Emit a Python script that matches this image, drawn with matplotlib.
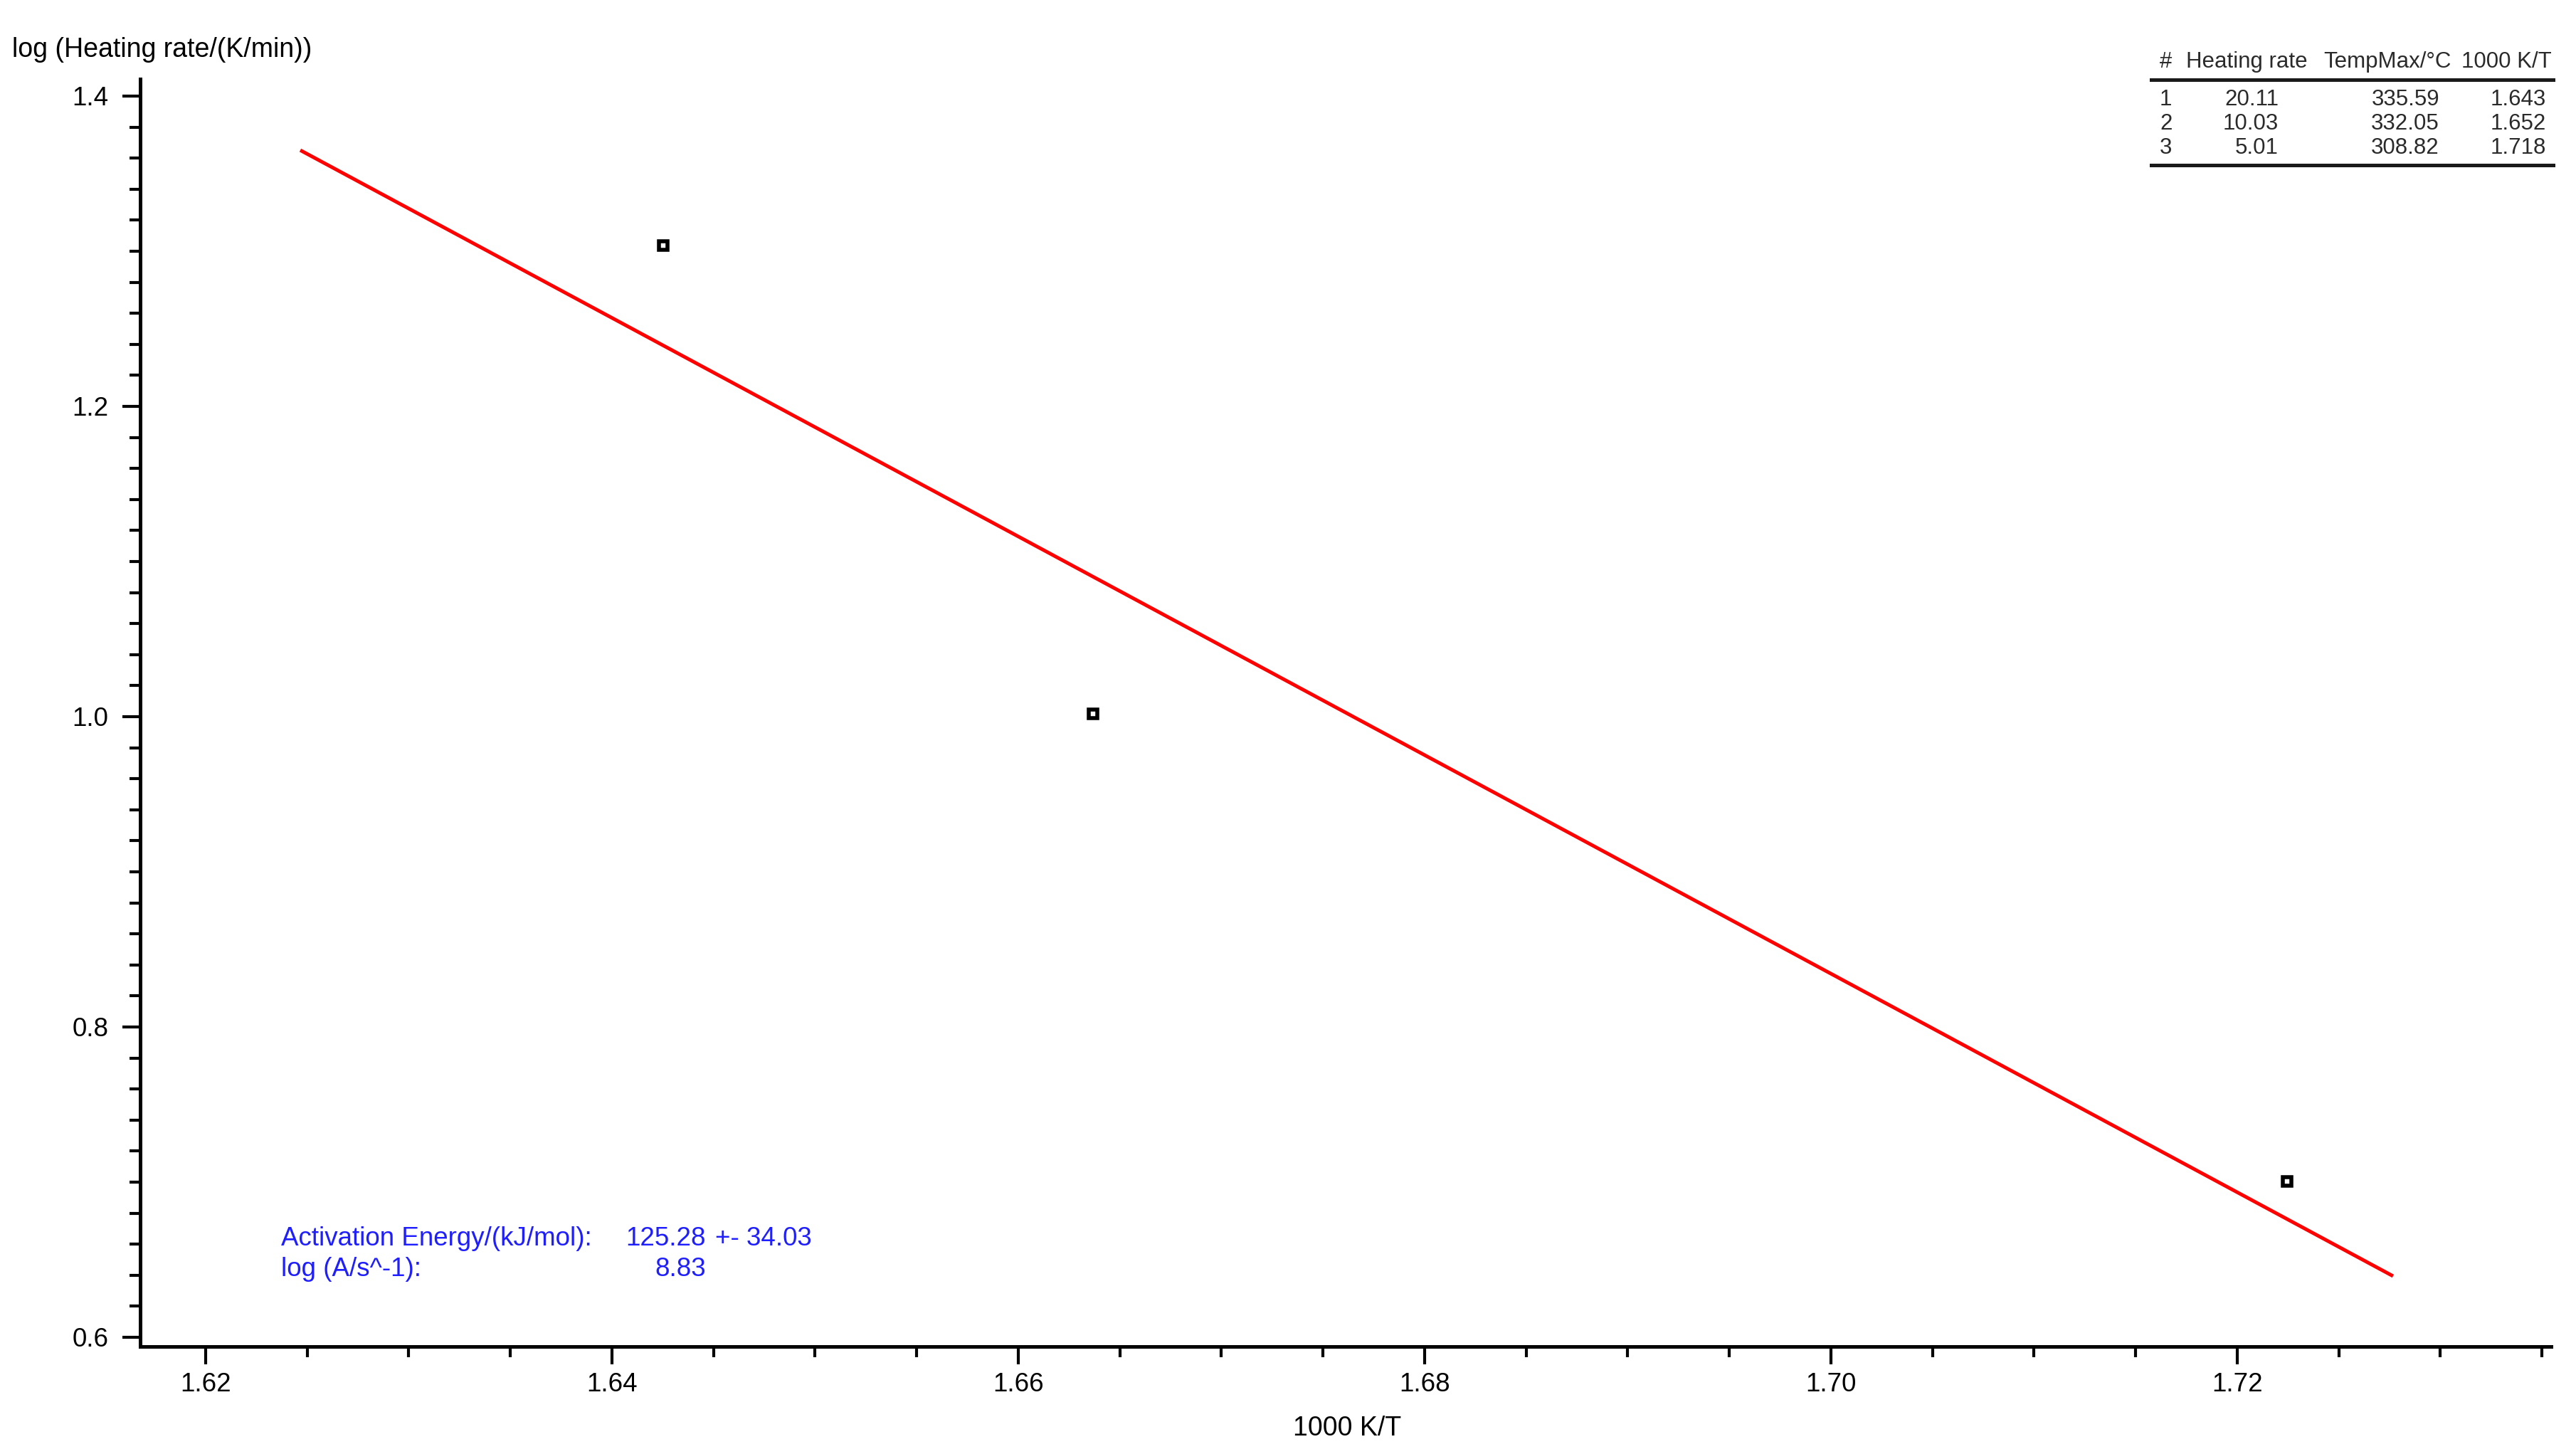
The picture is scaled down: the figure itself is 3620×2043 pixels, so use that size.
#!/usr/bin/env python3
# -*- coding: utf-8 -*-
"""
Kissinger / Ozawa style plot: log heating rate vs 1000 K/T
with fitted line, result text and a small table of peak temperatures.
"""

import matplotlib
matplotlib.use('Agg')
import matplotlib.pyplot as plt
from matplotlib.ticker import MultipleLocator, FormatStrFormatter
from matplotlib.lines import Line2D

plt.rcParams['font.family'] = ['Liberation Sans', 'DejaVu Sans']

W, H = 3620, 2043
DPI = 100

# measured points (as drawn)
inv_temp = [1.64251, 1.66367, 1.72245]
log_rate = [1.3037, 1.0017, 0.7005]

# fitted line end points
fit_x = [1.62466, 1.72767]
fit_y = [1.3651, 0.6394]

# table contents
row_ids = ['1', '2', '3']
heating_rates = ['20.11', '10.03', '5.01']
temp_max = ['335.59', '332.05', '308.82']
inv_temp_table = ['1.643', '1.652', '1.718']
table_headers = ['#', 'Heating rate', 'TempMax/\u00b0C', '1000 K/T']

act_energy = '125.28'
act_energy_err = '34.03'
log_a = '8.83'

BLUE = '#1e1eff'
TXT = '#2a2a2a'


def fx(px):
    return px / W


def fy(py):
    return 1 - py / H


fig = plt.figure(figsize=(W / DPI, H / DPI), dpi=DPI)
fig.patch.set_facecolor('white')

# axes box from pixel measurements
ax = fig.add_axes([fx(197), fy(1892), (3585 - 197) / W, (1892 - 111) / H])

ax.plot(fit_x, fit_y, color='#ff0000', linewidth=3.6, solid_capstyle='butt')
ax.plot(inv_temp, log_rate, linestyle='none', marker='s', markersize=8,
        markerfacecolor='white', markeredgecolor='black', markeredgewidth=4.0)

ax.set_xlim(1.61678, 1.73545)
ax.set_ylim(0.594, 1.411)

ax.xaxis.set_major_locator(MultipleLocator(0.02))
ax.xaxis.set_minor_locator(MultipleLocator(0.005))
ax.yaxis.set_major_locator(MultipleLocator(0.2))
ax.yaxis.set_minor_locator(MultipleLocator(0.02))
ax.xaxis.set_major_formatter(FormatStrFormatter('%.2f'))
ax.yaxis.set_major_formatter(FormatStrFormatter('%.1f'))

for side in ['top', 'right']:
    ax.spines[side].set_visible(False)
for side in ['left', 'bottom']:
    ax.spines[side].set_linewidth(3.6)
    ax.spines[side].set_capstyle('projecting')

ax.tick_params(which='major', direction='out', length=18, width=3.0,
               labelsize=26.5, colors='black')
ax.tick_params(which='minor', direction='out', length=10.5, width=3.0)
ax.tick_params(axis='x', which='major', pad=8)
ax.tick_params(axis='y', which='major', pad=14)

# axis titles
fig.text(fx(17), fy(80), 'log (Heating rate/(K/min))', fontsize=27,
         ha='left', va='baseline', color='black')
fig.text(fx(1893), fy(2017), '1000 K/T', fontsize=27,
         ha='center', va='baseline', color='black')

# result text
fig.text(fx(395), fy(1750), 'Activation Energy/(kJ/mol):', fontsize=26.5,
         color=BLUE, ha='left', va='baseline')
fig.text(fx(992), fy(1750), act_energy, fontsize=26.5,
         color=BLUE, ha='right', va='baseline')
fig.text(fx(1005), fy(1750), '+- ' + act_energy_err, fontsize=26.5,
         color=BLUE, ha='left', va='baseline')
fig.text(fx(395), fy(1793), 'log (A/s^-1):', fontsize=26.5,
         color=BLUE, ha='left', va='baseline')
fig.text(fx(992), fy(1793), log_a, fontsize=26.5,
         color=BLUE, ha='right', va='baseline')

# table in the top right corner
tfs = 22.5
fig.text(fx(3035), fy(95), table_headers[0], fontsize=tfs, color=TXT, va='baseline')
fig.text(fx(3072), fy(95), table_headers[1], fontsize=tfs, color=TXT, va='baseline')
fig.text(fx(3265), fy(95), table_headers[2], fontsize=tfs, color=TXT, va='baseline')
fig.text(fx(3586), fy(95), table_headers[3], fontsize=tfs, color=TXT,
         ha='right', va='baseline')

row_base = [148, 182, 216]
for i in range(len(row_ids)):
    y = fy(row_base[i])
    fig.text(fx(3035), y, row_ids[i], fontsize=tfs, color=TXT, va='baseline')
    fig.text(fx(3202), y, heating_rates[i], fontsize=tfs, color=TXT,
             ha='right', va='baseline')
    fig.text(fx(3428), y, temp_max[i], fontsize=tfs, color=TXT,
             ha='right', va='baseline')
    fig.text(fx(3578), y, inv_temp_table[i], fontsize=tfs, color=TXT,
             ha='right', va='baseline')

for ry in [112, 232]:
    fig.add_artist(Line2D([fx(3023), fx(3588)], [fy(ry), fy(ry)],
                          transform=fig.transFigure, color='#1a1a1a',
                          linewidth=3.6))

fig.savefig('out.png', dpi=DPI, facecolor='white')
